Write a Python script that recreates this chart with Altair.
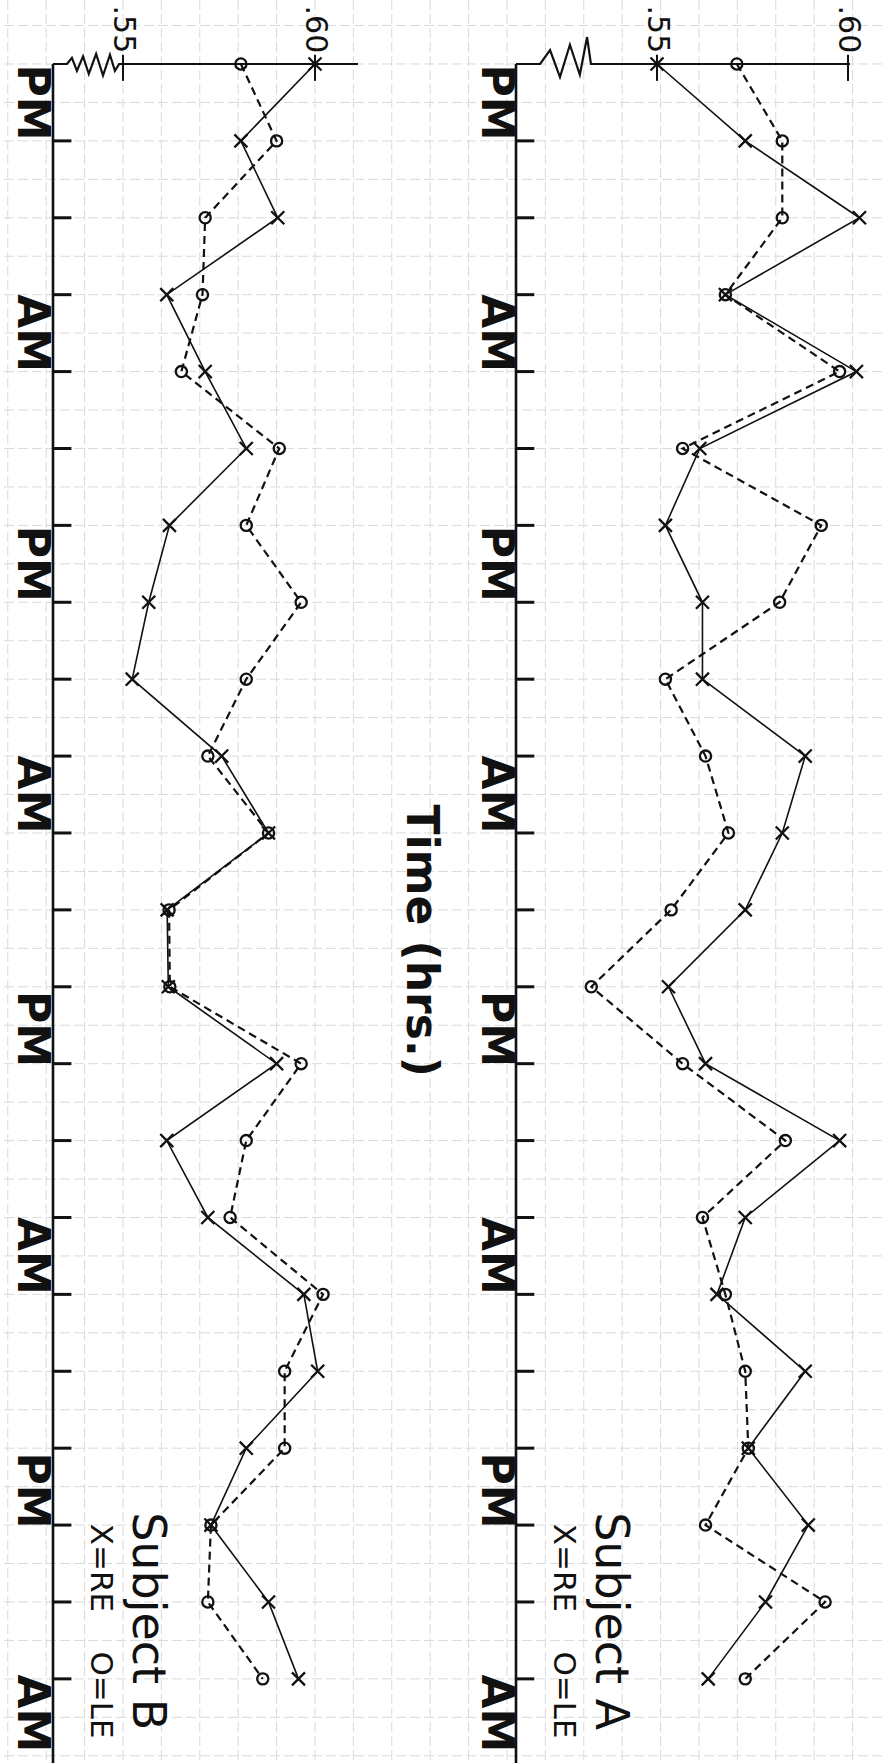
import altair as alt
import pandas as pd

# ---------------- data ----------------
TIME = list(range(22))          # time steps (4 h apart)
B_RE = [0.6000, 0.5807, 0.5903, 0.5614, 0.5714, 0.5821, 0.5621, 0.5567, 0.5524, 0.5757, 0.5879,
        0.5615, 0.5618, 0.5900, 0.5614, 0.5721, 0.5971, 0.6007, 0.5821, 0.5729, 0.5879, 0.5957]
B_LE = [0.5807, 0.5900, 0.5714, 0.5707, 0.5652, 0.5907, 0.5821, 0.5964, 0.5821, 0.5721, 0.5879,
        0.5620, 0.5622, 0.5964, 0.5821, 0.5779, 0.6021, 0.5921, 0.5921, 0.5729, 0.5721, 0.5864]
A_RE = [0.5500, 0.5731, 0.6030, 0.5679, 0.6022, 0.5612, 0.5522, 0.5619, 0.5619, 0.5888, 0.5828,
        0.5731, 0.5530, 0.5627, 0.5978, 0.5731, 0.5657, 0.5888, 0.5739, 0.5896, 0.5784, 0.5634]
A_LE = [0.5709, 0.5828, 0.5828, 0.5679, 0.5978, 0.5567, 0.5930, 0.5821, 0.5522, 0.5627, 0.5687,
        0.5537, 0.5328, 0.5567, 0.5836, 0.5619, 0.5679, 0.5731, 0.5739, 0.5627, 0.5940, 0.5731]

PERIOD_LABELS = ["PM", "AM", "PM", "AM", "PM", "AM", "PM", "AM"]
PERIOD_POS = [0.5, 3.5, 6.5, 9.5, 12.55, 15.5, 18.55, 21.45]
TIME_TICKS = list(range(1, 22))
VALUE_TICKS = [0.55, 0.60]
VALUE_TICK_LABELS = [".55", ".60"]
AXIS_TITLE = "Time (hrs.)"
SUBJECTS = ["Subject B", "Subject A"]
KEY_TEXT = "X=RE\u00a0\u00a0\u00a0\u00a0O=LE"

# ---------------- layout (scale domains) ----------------
W, H = 882, 1763
Y_DOMAIN = [-0.832, 22.094]
B_DOMAIN = [0.51797, 0.74766]
A_DOMAIN = [0.37801, 0.60890]
B_AXIS_V = 0.53177
A_AXIS_V = 0.51309
B_TOP_END = 0.6112
A_TOP_END = 0.6005
TICK_LEN = 0.0048

# axis-break zigzags along the top value axis
B_ZIG_V = [B_AXIS_V, 0.5354, 0.5367, 0.5380, 0.5396, 0.5411, 0.5430, 0.5448, 0.5466, 0.5479, 0.5490, B_TOP_END]
B_ZIG_T = [0, 0, -0.08, 0.09, -0.10, 0.13, -0.13, 0.15, -0.12, 0.09, 0, 0]
A_ZIG_V = [A_AXIS_V, 0.5194, 0.5220, 0.5246, 0.5272, 0.5298, 0.5317, 0.5327, A_TOP_END]
A_ZIG_T = [0, 0, -0.18, 0.17, -0.25, 0.14, -0.35, 0, 0]

# graph-paper grid
GRID_V = [round(0.52 + 0.01 * i, 2) for i in range(23)]
GRID_T = [k * 0.5 for k in range(-1, 45)]

FONT = "DejaVu Sans"
INK = "#111111"
GRID_COLOR = "#dadada"


def X(field, dom):
    return alt.X(field, type="quantitative",
                 scale=alt.Scale(domain=dom, nice=False, zero=False), axis=None)


def X2(field):
    return alt.X2(field)


def Y(field):
    return alt.Y(field, type="quantitative",
                 scale=alt.Scale(domain=Y_DOMAIN, nice=False, zero=False, reverse=True), axis=None)


def Y2(field):
    return alt.Y2(field)


CROSS = "M-1,-1L1,1M-1,1L1,-1"


def text_layer(df, dom, size, weight="normal"):
    return (alt.Chart(df).mark_text(font=FONT, fontSize=size, fontWeight=weight, angle=90,
                                    align="center", baseline="middle", color=INK)
            .encode(x=X("v", dom), y=Y("t"), text="label:N"))


def panel(re_vals, le_vals, dom, axis_v, zig_v, zig_t, subject, with_grid=False, with_title=False):
    layers = []
    if with_grid:
        gv = pd.DataFrame({"v": GRID_V})
        gt = pd.DataFrame({"t": GRID_T})
        layers.append(alt.Chart(gv).mark_rule(color=GRID_COLOR, strokeWidth=1, strokeDash=[10, 4])
                      .encode(x=X("v", dom)))
        layers.append(alt.Chart(gt).mark_rule(color=GRID_COLOR, strokeWidth=1, strokeDash=[10, 4])
                      .encode(y=Y("t")))

    # time axis line
    ax = pd.DataFrame({"v": [axis_v], "t0": [0.0], "t1": [Y_DOMAIN[1]]})
    layers.append(alt.Chart(ax).mark_rule(color=INK, strokeWidth=2.6)
                  .encode(x=X("v", dom), y=Y("t0"), y2=Y2("t1")))

    # top value axis with break zigzag
    zz = pd.DataFrame({"v": zig_v, "t": zig_t, "o": list(range(len(zig_v)))})
    layers.append(alt.Chart(zz).mark_line(color=INK, strokeWidth=2.2, strokeJoin="miter")
                  .encode(x=X("v", dom), y=Y("t"), order="o:Q"))

    # time ticks (pointing into the plot)
    tk = pd.DataFrame({"t": TIME_TICKS, "v0": [axis_v] * len(TIME_TICKS),
                       "v1": [axis_v + TICK_LEN] * len(TIME_TICKS)})
    layers.append(alt.Chart(tk).mark_rule(color=INK, strokeWidth=3)
                  .encode(x=X("v0", dom), x2=X2("v1"), y=Y("t")))

    # value ticks + labels
    vt = pd.DataFrame({"v": VALUE_TICKS, "t0": [-0.12] * 2, "t1": [0.22] * 2,
                       "t": [-0.45] * 2, "label": VALUE_TICK_LABELS})
    layers.append(alt.Chart(vt).mark_rule(color=INK, strokeWidth=2)
                  .encode(x=X("v", dom), y=Y("t0"), y2=Y2("t1")))
    layers.append(text_layer(vt, dom, 30))

    # AM / PM labels
    pl = pd.DataFrame({"t": PERIOD_POS, "label": PERIOD_LABELS,
                       "v": [axis_v - 0.0056] * len(PERIOD_POS)})
    layers.append(text_layer(pl, dom, 44, "bold"))

    # series
    re_df = pd.DataFrame({"t": TIME, "v": re_vals})
    le_df = pd.DataFrame({"t": TIME, "v": le_vals})
    layers.append(alt.Chart(le_df).mark_line(color=INK, strokeWidth=2.2, strokeDash=[8, 5])
                  .encode(x=X("v", dom), y=Y("t"), order="t:Q"))
    layers.append(alt.Chart(re_df).mark_line(color=INK, strokeWidth=1.6)
                  .encode(x=X("v", dom), y=Y("t"), order="t:Q"))
    layers.append(alt.Chart(le_df).mark_point(shape="circle", size=125, filled=False, color=INK,
                                             strokeWidth=2.3, opacity=1)
                  .encode(x=X("v", dom), y=Y("t")))
    layers.append(alt.Chart(re_df).mark_point(shape=CROSS, size=170, filled=False, color=INK,
                                             strokeWidth=2.3, opacity=1)
                  .encode(x=X("v", dom), y=Y("t")))

    # subject label and key
    lab = pd.DataFrame({"v": [axis_v + 0.0246], "t": [20.25], "label": [subject]})
    layers.append(text_layer(lab, dom, 46))
    key = pd.DataFrame({"v": [axis_v + 0.0122], "t": [20.38], "label": [KEY_TEXT]})
    layers.append(text_layer(key, dom, 31))

    if with_title:
        tt = pd.DataFrame({"v": [0.48796], "t": [11.40], "label": [AXIS_TITLE]})
        layers.append(text_layer(tt, dom, 44, "bold"))
    return alt.layer(*layers)


panel_b = panel(B_RE, B_LE, B_DOMAIN, B_AXIS_V, B_ZIG_V, B_ZIG_T, SUBJECTS[0], with_grid=True)
panel_a = panel(A_RE, A_LE, A_DOMAIN, A_AXIS_V, A_ZIG_V, A_ZIG_T, SUBJECTS[1], with_title=True)

chart = (alt.layer(panel_b, panel_a)
         .resolve_scale(x="independent")
         .properties(width=W, height=H, padding=0, background="white",
                     autosize=alt.AutoSizeParams(type="none"))
         .configure_view(stroke=None))

chart.save("out.html", embed_options={"renderer": "svg", "actions": False})
